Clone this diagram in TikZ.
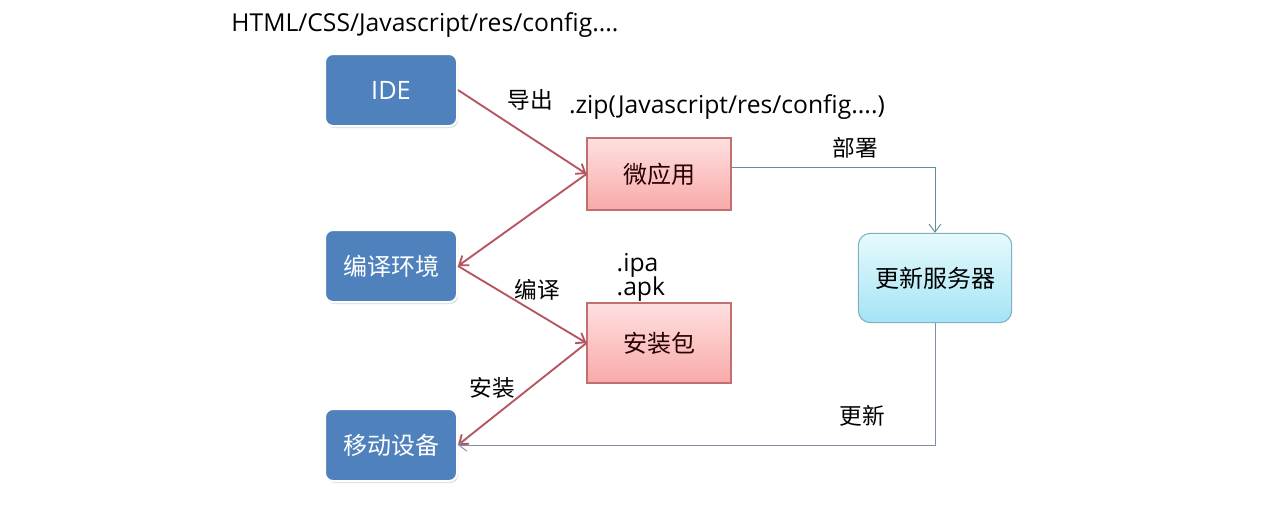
\documentclass[tikz,border=0pt]{standalone}
\usepackage{fontspec}
\setmainfont{Open Sans}
\newfontfamily\cjk{Noto Sans CJK SC}
\usepackage{tikz}
\usetikzlibrary{arrows.meta,positioning,shadows}
\definecolor{toolblue}{HTML}{4F81BD}
\definecolor{pinktop}{HTML}{FFE0E0}
\definecolor{pinkbot}{HTML}{F9A9A9}
\definecolor{pinkline}{HTML}{C0706E}
\definecolor{cyantop}{HTML}{E6FAFD}
\definecolor{cyanbot}{HTML}{A3E4F5}
\definecolor{cyanline}{HTML}{7FAFC0}
\definecolor{flowred}{HTML}{B65460}
\definecolor{flowteal}{HTML}{5F8F98}
\definecolor{flowgray}{HTML}{7F8FA8}
\tikzset{
  toolbox/.style={draw=white, line width=1.5pt, fill=toolblue, rounded corners=6pt,
    minimum width=99pt, minimum height=54pt, text=white,
    drop shadow={opacity=0.25, shadow xshift=1pt, shadow yshift=-1.5pt},
    font=\cjk\fontsize{18}{20}\selectfont},
  pkgbox/.style={draw=pinkline, line width=0.8pt, top color=pinktop, bottom color=pinkbot,
    minimum width=108pt, minimum height=54pt, text={rgb,255:red,40;green,0;blue,0},
    font=\cjk\fontsize{18}{20}\selectfont},
  serverbox/.style={draw=cyanline, line width=0.8pt, top color=cyantop, bottom color=cyanbot,
    rounded corners=9pt, minimum width=115pt, minimum height=67pt,
    font=\cjk\fontsize{18}{20}\selectfont},
  flow/.style={draw=flowred, line width=1.4pt, -{Straight Barb[length=6pt,width=9pt]}},
  deploy/.style={draw=#1, line width=0.7pt, -{Straight Barb[length=6pt,width=9pt]}},
  cjklbl/.style={font=\cjk\fontsize{17}{19}\selectfont},
  latlbl/.style={font=\fontsize{18.5}{21}\selectfont},
}
\begin{document}
\begin{tikzpicture}[x=0.75pt, y=-0.75pt]
\useasboundingbox (0,0) rectangle (1280,508);
% Left column: tools and devices
\node[toolbox] (ide) at (391,90) {\fontspec{Open Sans}\fontsize{19}{21}\selectfont IDE};
\node[toolbox] (env) at (391,266) {编译环境};
\node[toolbox] (mobile) at (391,445) {移动设备};
% Middle column: packages
\node[pkgbox] (app) at (659,174) {微应用};
\node[pkgbox, minimum height=60pt] (pkg) at (659,343) {安装包};
% Right: update server
\node[serverbox] (server) at (935,278) {更新服务器};
% Red flow arrows
\draw[flow] (ide.east) -- (app.west);
\draw[flow] (app.west) -- (env.east);
\draw[flow] (env.east) -- (pkg.west);
\draw[flow] (pkg.west) -- (mobile.east);
% Deploy and update connectors
\draw[deploy=flowteal] ([yshift=5pt]app.east) -| (server.north);
\draw[deploy=flowgray] (server.south) |- (mobile.east);
% Labels
\node[latlbl] (srcfiles) at (425,25) {HTML/CSS/Javascript/res/config....};
\node[cjklbl] (export) at (530,100) {导出};
\node[latlbl] (zipfile) at (727,107) {.zip(Javascript/res/config....)};
\node[cjklbl] (deploylbl) at (855,148) {部署};
\node[latlbl, anchor=west] (ipa) at (612,265) {.ipa};
\node[latlbl, anchor=west] (apk) at (612,289) {.apk};
\node[cjklbl] (compile) at (537,290) {编译};
\node[cjklbl] (install) at (492,388) {安装};
\node[cjklbl] (update) at (862,416) {更新};
\end{tikzpicture}
\end{document}
